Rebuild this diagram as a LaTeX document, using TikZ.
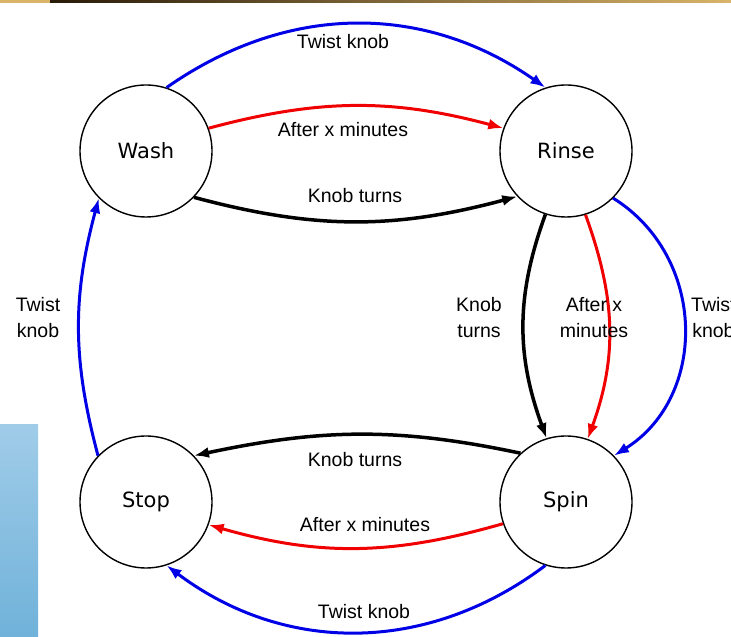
\documentclass[tikz,border=0pt]{standalone}
\usepackage{fontspec}
\setmainfont{Liberation Sans}
\newfontfamily\statefont{DejaVu Sans}
\usetikzlibrary{arrows.meta}
\definecolor{eblue}{RGB}{0,0,230}
\definecolor{ered}{RGB}{240,0,0}
\definecolor{goldl}{RGB}{217,180,105}
\definecolor{goldd}{RGB}{40,26,8}
\definecolor{panelt}{RGB}{160,204,232}
\definecolor{panelb}{RGB}{112,178,218}
\begin{document}
\begin{tikzpicture}[x=1pt,y=1pt,
  state/.style={circle,draw,line width=1.4pt,minimum size=132pt,inner sep=0pt,font=\statefont\fontsize{21}{24}\selectfont},
  lbl/.style={font=\fontsize{19.5}{26}\selectfont,align=center,inner sep=0pt},
  tb/.style={draw=eblue,line width=3pt,-{Latex[length=15pt,width=11pt]}},
  tr/.style={draw=ered,line width=3pt,-{Latex[length=15pt,width=11pt]}},
  tk/.style={draw=black,line width=3.5pt,-{Latex[length=15pt,width=11pt]}}]
\useasboundingbox (0,0) rectangle (731,637);
\fill[white] (0,0) rectangle (731,637);
% decorations
\fill[goldl] (0,634) rectangle (50,637);
\shade[left color=goldd,right color=goldl] (50,634) rectangle (731,637);
\shade[top color=panelt,bottom color=panelb] (0,0) rectangle (38,212);
% states
\node[state] (wash)  at (146,486) {Wash};
\node[state] (rinse) at (566,486) {Rinse};
\node[state] (stop)  at (146,135) {Stop};
\node[state] (spin)  at (566,135) {Spin};
% wash -> rinse
\draw[tb] (wash.72) to[out=35,in=145] (rinse.108);
\draw[tr] (wash.20) to[out=15,in=165] (rinse.160);
\draw[tk] (wash.-44) to[out=-15,in=-165] (rinse.223);
% rinse -> spin
\draw[tk] (rinse.252) to[out=-110,in=110] (spin.107);
\draw[tr] (rinse.-73) to[out=-70,in=70] (spin.71);
\draw[tb] (rinse.-45) to[out=-32,in=32,looseness=1.1] (spin.44);
% spin -> stop
\draw[tk] (spin.133) to[out=168,in=12] (stop.44);
\draw[tr] (spin.199) to[out=196,in=-16] (stop.-20);
\draw[tb] (spin.252) to[out=217,in=-37] (stop.-72);
% stop -> wash
\draw[tb] (stop.136) to[out=105,in=-105] (wash.225);
% labels
\node[lbl] (l1) at (343,595) {Twist knob};
\node[lbl] (l2) at (343,507) {After x minutes};
\node[lbl] (l3) at (355,441) {Knob turns};
\node[lbl] (l4) at (479,319) {Knob\\turns};
\node[lbl] (l5) at (594,319) {After x\\minutes};
\node[lbl,anchor=west] (l6) at (691,319) {Twist\\knob};
\node[lbl] (l7) at (355,177) {Knob turns};
\node[lbl] (l8) at (365,112) {After x minutes};
\node[lbl] (l9) at (364,25) {Twist knob};
\node[lbl] (l10) at (38,319) {Twist\\knob};
\end{tikzpicture}
\end{document}
